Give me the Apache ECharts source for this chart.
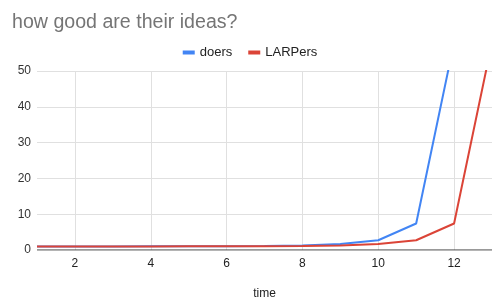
<!DOCTYPE html>
<html>
<head>
<meta charset="utf-8">
<script src="https://cdn.jsdelivr.net/npm/echarts@6/dist/echarts.min.js"></script>
<style>
html,body{margin:0;padding:0;background:#fff;}
#chart{width:500px;height:303px;}
</style>
</head>
<body>
<div id="chart"></div>
<script>
var titleText = "how good are their ideas?";
var xName = "time";
var seriesNames = ["doers", "LARPers"];
var timeDoers = [1,2,3,4,5,6,7,8,9,10,11,12];
var doers = [1.00,1.00,1.01,1.02,1.03,1.06,1.13,1.28,1.65,2.72,7.4,58];
var timeLarpers = [1,2,3,4,5,6,7,8,9,10,11,12,13];
var larpers = [1.00,1.00,1.00,1.01,1.02,1.03,1.06,1.13,1.28,1.65,2.72,7.4,58];
var yTicks = [0,10,20,30,40,50];

function pairs(xs, ys){ return xs.map(function(x,i){ return [x, ys[i]]; }); }

var chart = echarts.init(document.getElementById('chart'), null, {renderer:'canvas'});
chart.setOption({
  animation:false,
  backgroundColor:'#ffffff',
  title:{
    text:titleText, left:7, top:8,
    textStyle:{fontFamily:'Liberation Sans, Arial, sans-serif', fontSize:19.6, fontWeight:'normal', color:'#757575'}
  },
  legend:{
    data:seriesNames, left:'center', top:41,
    itemWidth:12, itemHeight:4, itemGap:16,
    icon:'rect',
    textStyle:{fontFamily:'Liberation Sans, Arial, sans-serif', fontSize:13, color:'#222'}
  },
  grid:{left:37, right:8, top:71, bottom:53, containLabel:false, outerBoundsMode:'none'},
  xAxis:{
    type:'value', min:1, max:13, splitNumber:6,
    name:xName, nameLocation:'middle', nameGap:38,
    nameTextStyle:{fontFamily:'Liberation Sans, Arial, sans-serif', fontSize:12, color:'#222'},
    axisLine:{show:false},
    axisTick:{show:false},
    axisLabel:{showMinLabel:false, showMaxLabel:false, margin:8,
      fontFamily:'Liberation Sans, Arial, sans-serif', fontSize:12, color:'#222'},
    splitLine:{show:true, showMinLine:false, showMaxLine:false, lineStyle:{color:'#e0e0e0', width:1}}
  },
  yAxis:{
    type:'value', min:yTicks[0], max:yTicks[yTicks.length-1], interval:10,
    axisLine:{show:false}, axisTick:{show:false},
    axisLabel:{margin:6, fontFamily:'Liberation Sans, Arial, sans-serif', fontSize:12, color:'#333'},
    splitLine:{show:true, lineStyle:{color:'#e0e0e0', width:1}}
  },
  series:[
    {name:seriesNames[0], type:'line', data:pairs(timeDoers, doers), showSymbol:false, symbol:'none',
     lineStyle:{color:'#4285F4', width:2}, itemStyle:{color:'#4285F4'}, clip:true, z:3},
    {name:seriesNames[1], type:'line', data:pairs(timeLarpers, larpers), showSymbol:false, symbol:'none',
     lineStyle:{color:'#DB4437', width:2}, itemStyle:{color:'#DB4437'}, clip:true, z:4},
    {type:'line', data:[[1,0],[13,0]], symbol:'none', silent:true, lineStyle:{color:'#333', width:1}, z:2, tooltip:{show:false}}
  ]
});
</script>
</body>
</html>
